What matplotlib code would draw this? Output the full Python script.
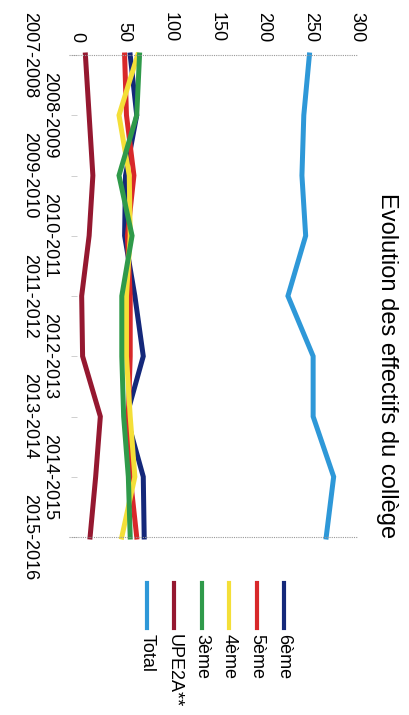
import matplotlib.pyplot as plt
from matplotlib.lines import Line2D
from matplotlib.transforms import blended_transform_factory

plt.rcParams["font.family"] = ["Liberation Sans", "DejaVu Sans"]

years = ["2007-2008", "2008-2009", "2009-2010", "2010-2011", "2011-2012",
         "2012-2013", "2013-2014", "2014-2015", "2015-2016"]

sixieme = [57, 64, 52, 51, 62, 71, 53, 71, 72]
cinquieme = [51, 53, 61, 54, 57, 57, 55, 57, 64]
quatrieme = [65, 45, 56, 57, 53, 53, 57, 62, 48]
troisieme = [67, 64, 45, 59, 48, 48, 50, 55, 57]
upe2a = [9, 13, 17, 13, 5, 6, 25, 20, 14]
total = [249, 243, 241, 245, 226, 253, 253, 275, 267]

names = ["6ème", "5ème", "4ème", "3ème", "UPE2A**", "Total"]
series = [sixieme, cinquieme, quatrieme, troisieme, upe2a, total]
colors = ["#14287a", "#d8282a", "#f4df38", "#2f9a4a", "#951830", "#2e98d8"]

W, H = 409, 715
fig = plt.figure(figsize=(W / 100, H / 100), dpi=100)
ax = fig.add_axes([77 / W, 1 - 537 / H, 280 / W, 482 / H])

idx = list(range(len(years)))
for vals, c in zip(series, colors):
    ax.plot(vals, idx, color=c, lw=3.6, solid_joinstyle="miter", clip_on=False)

ax.set_xlim(0, 300)
ax.set_ylim(len(years) - 1, 0)

for s in ax.spines.values():
    s.set_visible(False)

# value axis (drawn on top, rotated)
ax.xaxis.tick_top()
ax.set_xticks(range(0, 301, 50))
ax.tick_params(axis="x", length=0, pad=9.5, labelsize=13, labelrotation=-90)

# category ticks on the left
ax.set_yticks(idx)
ax.tick_params(axis="y", length=4, width=0.6, color="#c8c8c8", labelleft=False)

ax.axhline(0, xmin=-0.03, xmax=1.0, color="#999999", lw=0.8, ls=(0, (1, 1)), clip_on=False)
ax.axhline(len(years) - 1, xmin=-0.03, xmax=1.0, color="#999999", lw=0.8, ls=(0, (1, 1)), clip_on=False)

trans = blended_transform_factory(ax.transAxes, ax.transData)
for i, lab in enumerate(years):
    xpos = -0.139 if i % 2 == 0 else -0.068
    ax.text(xpos, i, lab, transform=trans, rotation=-90, ha="right", va="center",
            fontsize=13, clip_on=False)

fig.text(387 / W, 1 - 366 / H, "Evolution des effectifs du collège", rotation=-90,
         ha="center", va="center", fontsize=17)

# legend, rotated by hand
for k, (name, c) in enumerate(zip(names, colors)):
    xc = (284 - 27.4 * k) / W
    fig.add_artist(Line2D([xc, xc], [1 - 583 / H, 1 - 628 / H], color=c, lw=3,
                          transform=fig.transFigure))
    fig.text(xc, 1 - 634 / H, name, rotation=-90, ha="center", va="top", fontsize=13)

fig.savefig("out.png", dpi=100)
